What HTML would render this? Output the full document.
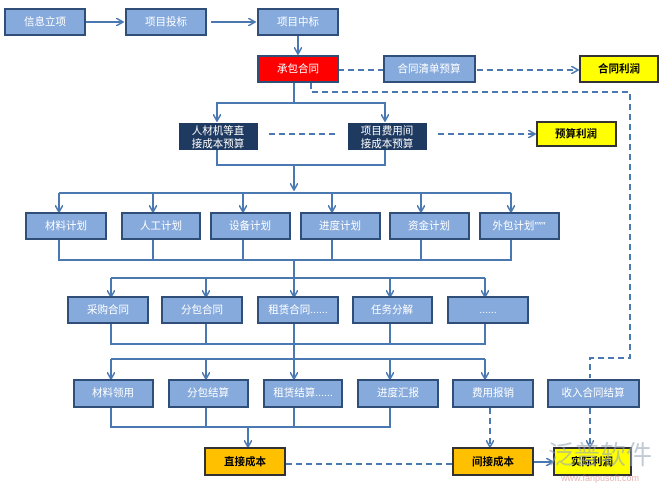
<!DOCTYPE html>
<html><head><meta charset="utf-8"><style>
body{margin:0;background:#fff;width:660px;height:490px;overflow:hidden}
svg text{font-family:"Liberation Sans","Noto Sans CJK SC",sans-serif;font-size:10.5px;text-anchor:middle;dominant-baseline:central}
</style></head><body>
<svg width="660" height="490" viewBox="0 0 660 490">
<defs>
<marker id="a" markerWidth="8" markerHeight="8" refX="6" refY="4" orient="auto" markerUnits="userSpaceOnUse"><path d="M0,0 L7,4 L0,8" fill="none" stroke="#4a78b0" stroke-width="1.6"/></marker>
</defs>
<g fill="none" stroke="#4a78b0" stroke-width="2">
<line x1="85" y1="22" x2="122" y2="22" marker-end="url(#a)"/>
<line x1="211" y1="22" x2="254" y2="22" marker-end="url(#a)"/>
<line x1="298" y1="35" x2="298" y2="53" marker-end="url(#a)"/>
<line x1="294" y1="82" x2="294" y2="103"/>
<polyline points="217,121 217,103 385,103 385,121"/>
<line x1="217" y1="103" x2="217" y2="120" marker-end="url(#a)"/>
<line x1="385" y1="103" x2="385" y2="120" marker-end="url(#a)"/>
<polyline points="217,150 217,165 385,165 385,150"/>
<line x1="294" y1="165" x2="294" y2="189" marker-end="url(#a)"/>
<line x1="59" y1="193" x2="511" y2="193"/>
<g marker-end="url(#a)">
<line x1="59" y1="193" x2="59" y2="211"/><line x1="153" y1="193" x2="153" y2="211"/><line x1="243" y1="193" x2="243" y2="211"/><line x1="332" y1="193" x2="332" y2="211"/><line x1="421" y1="193" x2="421" y2="211"/><line x1="511" y1="193" x2="511" y2="211"/>
</g>
<polyline points="59,239 59,260 511,260 511,239"/>
<line x1="153" y1="239" x2="153" y2="260"/><line x1="243" y1="239" x2="243" y2="260"/><line x1="332" y1="239" x2="332" y2="260"/><line x1="421" y1="239" x2="421" y2="260"/>
<line x1="294" y1="260" x2="294" y2="278"/>
<line x1="111" y1="278" x2="485" y2="278"/>
<g marker-end="url(#a)">
<line x1="111" y1="278" x2="111" y2="296"/><line x1="206" y1="278" x2="206" y2="296"/><line x1="294" y1="278" x2="294" y2="296"/><line x1="390" y1="278" x2="390" y2="296"/><line x1="485" y1="278" x2="485" y2="296"/>
</g>
<polyline points="111,323 111,344 485,344 485,323"/>
<line x1="206" y1="323" x2="206" y2="344"/><line x1="390" y1="323" x2="390" y2="344"/>
<line x1="294" y1="323" x2="294" y2="359"/>
<line x1="111" y1="359" x2="485" y2="359"/>
<g marker-end="url(#a)">
<line x1="111" y1="359" x2="111" y2="378"/><line x1="206" y1="359" x2="206" y2="378"/><line x1="294" y1="359" x2="294" y2="378"/><line x1="390" y1="359" x2="390" y2="378"/><line x1="485" y1="359" x2="485" y2="378"/>
</g>
<polyline points="111,407 111,427 390,427 390,407"/>
<line x1="206" y1="407" x2="206" y2="427"/><line x1="294" y1="407" x2="294" y2="427"/>
<line x1="248" y1="427" x2="248" y2="446" marker-end="url(#a)"/>
<line x1="533" y1="462" x2="552" y2="462" marker-end="url(#a)"/>
</g>
<g fill="none" stroke="#4a78b0" stroke-width="2" stroke-dasharray="6,4">
<line x1="338" y1="70" x2="383" y2="70"/>
<line x1="477" y1="70" x2="577" y2="70" marker-end="url(#a)"/>
<polyline points="311,83 311,92 630,92 630,358 590,358 590,378" />
<line x1="269" y1="134" x2="337" y2="134"/>
<line x1="438" y1="134" x2="534" y2="134" marker-end="url(#a)"/>
<line x1="490" y1="408" x2="490" y2="446" marker-end="url(#a)"/>
<line x1="590" y1="408" x2="590" y2="446" marker-end="url(#a)"/>
<line x1="286" y1="464" x2="452" y2="464"/>
</g>
<g stroke="#2f4f78" stroke-width="2" fill="#86aadc">
<rect x="5" y="9" width="80" height="26"/><rect x="126" y="9" width="80" height="26"/><rect x="258" y="9" width="80" height="26"/>
<rect x="384" y="56" width="91" height="26"/>
<rect x="26" y="213" width="80" height="26"/><rect x="122" y="213" width="78" height="26"/><rect x="211" y="213" width="79" height="26"/><rect x="301" y="213" width="79" height="26"/><rect x="390" y="213" width="79" height="26"/><rect x="480" y="213" width="79" height="26"/>
<rect x="68" y="297" width="80" height="26"/><rect x="162" y="297" width="80" height="26"/><rect x="258" y="297" width="80" height="26"/><rect x="353" y="297" width="79" height="26"/><rect x="448" y="297" width="80" height="26"/>
<rect x="74" y="380" width="79" height="27"/><rect x="169" y="380" width="79" height="27"/><rect x="264" y="380" width="78" height="27"/><rect x="358" y="380" width="80" height="27"/><rect x="453" y="380" width="80" height="27"/><rect x="548" y="380" width="91" height="27"/>
</g>
<rect x="258" y="56" width="80" height="26" fill="#ff0000" stroke="#2f4f78" stroke-width="2"/>
<rect x="580" y="56" width="78" height="26" fill="#ffff00" stroke="#333" stroke-width="2"/>
<rect x="537" y="122" width="79" height="24" fill="#ffff00" stroke="#333" stroke-width="2"/>
<rect x="179" y="123" width="79" height="27" fill="#1f3a60"/>
<rect x="348" y="123" width="79" height="27" fill="#1f3a60"/>
<g fill="#ffc000" stroke="#333" stroke-width="2">
<rect x="205" y="448" width="80" height="27"/><rect x="453" y="448" width="80" height="27"/>
</g>
<rect x="554" y="448" width="77" height="27" fill="#ffff00" stroke="#333" stroke-width="2"/>
<g fill="#fff">
<text x="45" y="22">信息立项</text><text x="166" y="22">项目投标</text><text x="298" y="22">项目中标</text>
<text x="298" y="69">承包合同</text><text x="429" y="69">合同清单预算</text>
<text x="218" y="131">人材机等直</text><text x="218" y="144">接成本预算</text>
<text x="387" y="131">项目费用间</text><text x="387" y="144">接成本预算</text>
<text x="66" y="226">材料计划</text><text x="161" y="226">人工计划</text><text x="250" y="226">设备计划</text><text x="340" y="226">进度计划</text><text x="429" y="226">资金计划</text><text x="519" y="226">外包计划″″″</text>
<text x="108" y="310">采购合同</text><text x="202" y="310">分包合同</text><text x="298" y="310">租赁合同......</text><text x="392" y="310">任务分解</text><text x="488" y="310">......</text>
<text x="113" y="393">材料领用</text><text x="208" y="393">分包结算</text><text x="303" y="393">租赁结算......</text><text x="398" y="393">进度汇报</text><text x="493" y="393">费用报销</text><text x="593" y="393">收入合同结算</text>
</g>
<g fill="#000" font-weight="bold">
<text x="619" y="69">合同利润</text><text x="576" y="134">预算利润</text>
<text x="245" y="462">直接成本</text><text x="493" y="462">间接成本</text><text x="592" y="462">实际利润</text>
</g>
<text x="600" y="455" fill="#9aa8b8" opacity="0.6" style="font-size:26px">泛普软件</text>
<text x="600" y="478" fill="#d08080" opacity="0.6" style="font-size:9px">www.fanpusoft.com</text>
</svg>
</body></html>
